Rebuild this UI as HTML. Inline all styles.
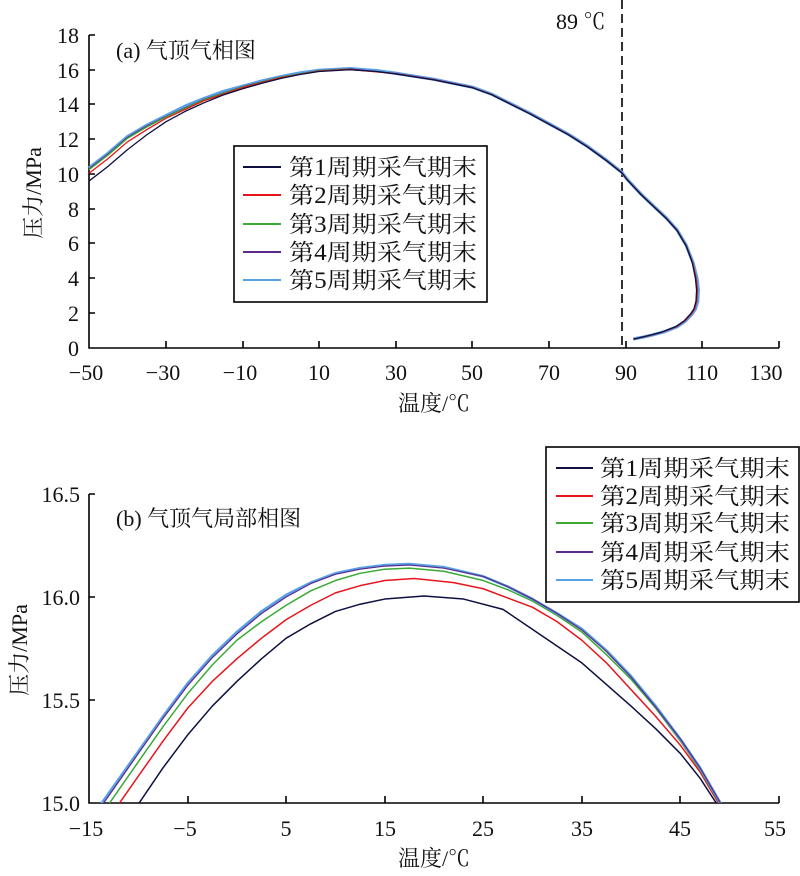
<!DOCTYPE html>
<html><head><meta charset="utf-8"><style>
html,body{margin:0;padding:0;background:#fff;}
svg{display:block;}
text{font-family:"Liberation Serif","Noto Serif CJK SC",serif;fill:#111;}
</style></head><body>
<svg width="800" height="876" viewBox="0 0 800 876" xmlns="http://www.w3.org/2000/svg">
<defs>
<clipPath id="cb"><rect x="89" y="440" width="690" height="363"/></clipPath>
</defs>
<!-- TOP CHART -->
<g stroke="#000" stroke-width="1.6" fill="none">
<path d="M89,35 V348 H779"/>
<path d="M89,35 h6 M89,70 h6 M89,104 h6 M89,139 h6 M89,174 h6 M89,209 h6 M89,243 h6 M89,278 h6 M89,313 h6"/>
<path d="M166,348 v-7 M243,348 v-7 M319,348 v-7 M396,348 v-7 M472,348 v-7 M549,348 v-7 M626,348 v-7 M702,348 v-7 M779,348 v-7"/>
</g>
<line x1="622" y1="0" x2="622" y2="348" stroke="#000" stroke-width="1.6" stroke-dasharray="9,5"/>
<g font-size="22" text-anchor="end">
<text x="79" y="43">18</text><text x="79" y="78">16</text><text x="79" y="112">14</text><text x="79" y="147">12</text><text x="79" y="182">10</text><text x="79" y="217">8</text><text x="79" y="251">6</text><text x="79" y="286">4</text><text x="79" y="321">2</text><text x="79" y="356">0</text>
</g>
<g font-size="22" text-anchor="middle">
<text x="86" y="380">−50</text><text x="163" y="380">−30</text><text x="240" y="380">−10</text><text x="319" y="380">10</text><text x="396" y="380">30</text><text x="472" y="380">50</text><text x="549" y="380">70</text><text x="626" y="380">90</text><text x="702" y="380">110</text><text x="766" y="380">130</text>
</g>
<text x="434" y="411" font-size="22" text-anchor="middle">温度/℃</text>
<text transform="translate(41,193) rotate(-90)" font-size="22" text-anchor="middle">压力/MPa</text>
<text x="116" y="58" font-size="22">(a) 气顶气相图</text>
<text x="556" y="29" font-size="22">89 ℃</text>
<g fill="none" stroke-linejoin="round" transform="matrix(3.8333 0 0 -17.389 280.67 348)">
<polyline vector-effect="non-scaling-stroke" stroke="#5aa0e6" stroke-width="3.2" points="-50,10.35 -45,11.2 -40,12.15 -35,12.8 -30,13.35 -25,13.9 -20,14.35 -15,14.75 -10,15.05 -5,15.35 0,15.6 5,15.82 10,15.97 18,16.07 25,15.95 30,15.8 40,15.45 50,15.0 55,14.6 60,14.05 65,13.5 70,12.9 75,12.3 80,11.6 85,10.8 89,10.1 90.4,9.7 94,8.85 97.1,8.2 100.5,7.5 103.4,6.79 105.8,5.9 107.6,4.89 108.6,4.0 108.95,3.33 108.8,2.7 108.2,2.25 107.3,1.95 105.6,1.55 103.4,1.22 100,0.93 97,0.75 94.5,0.62 92,0.52"/>
<polyline vector-effect="non-scaling-stroke" stroke="#5b2a8c" stroke-width="1.3" points="-50,10.3 -45,11.15 -40,12.1 -35,12.75 -30,13.3 -20,14.3 -10,15.02 0,15.58 10,15.95 18,16.05 30,15.78 40,15.43 50,14.98"/>
<polyline vector-effect="non-scaling-stroke" stroke="#3aaa35" stroke-width="1.3" points="-50,10.25 -45,11.1 -40,12.05 -35,12.7 -30,13.28 -20,14.28 -10,15.0 0,15.57 10,15.94 18,16.04"/>
<polyline vector-effect="non-scaling-stroke" stroke="#e8141c" stroke-width="1.3" points="-50,10.05 -45,10.9 -40,11.85 -35,12.55 -30,13.2 -20,14.22 -10,14.97 0,15.54 10,15.92 18,16.02 30,15.78 40,15.43 50,14.98 55,14.58 60,14.03 65,13.48 70,12.88 75,12.28 80,11.58 85,10.78 89,10.08 90.4,9.68 94,8.83 97.1,8.18 100.5,7.48 103.4,6.77 105.8,5.88 107.5,4.89 108.4,4.0 108.7,3.33 108.55,2.7 108,2.25 107.1,1.95 105.4,1.55 103.2,1.22 99.8,0.93 96.8,0.75 94.3,0.62 92,0.51"/>
<polyline vector-effect="non-scaling-stroke" stroke="#0d1040" stroke-width="1.3" points="-50,9.6 -45,10.45 -40,11.4 -35,12.25 -30,13.0 -25,13.6 -20,14.1 -15,14.55 -10,14.9 -5,15.22 0,15.5 5,15.73 10,15.9 18,16.0 25,15.9 30,15.76 40,15.42 50,14.97 55,14.57 60,14.02 65,13.47 70,12.87 75,12.27 80,11.57 85,10.77 89,10.07 90.4,9.67 94,8.82 97.1,8.17 100.5,7.47 103.4,6.76 105.8,5.87 107.4,4.89 108.2,4.0 108.5,3.33 108.35,2.7 107.8,2.25 106.9,1.95 105.2,1.55 103,1.22 99.6,0.93 96.6,0.75 94.1,0.62 92,0.5"/>
</g>
<rect x="234" y="146" width="253" height="156" fill="#fff" stroke="#000" stroke-width="1.6"/>
<g stroke-width="2">
<line x1="243" y1="167" x2="281" y2="167" stroke="#0d1040"/>
<line x1="243" y1="195" x2="281" y2="195" stroke="#e8141c"/>
<line x1="243" y1="224" x2="281" y2="224" stroke="#3aaa35"/>
<line x1="243" y1="252" x2="281" y2="252" stroke="#5b2a8c"/>
<line x1="243" y1="280" x2="281" y2="280" stroke="#5aa0e6"/>
</g>
<g font-size="23">
<text x="289" y="175" textLength="188" lengthAdjust="spacingAndGlyphs">第1周期采气期末</text>
<text x="289" y="203" textLength="188" lengthAdjust="spacingAndGlyphs">第2周期采气期末</text>
<text x="289" y="232" textLength="188" lengthAdjust="spacingAndGlyphs">第3周期采气期末</text>
<text x="289" y="260" textLength="188" lengthAdjust="spacingAndGlyphs">第4周期采气期末</text>
<text x="289" y="288" textLength="188" lengthAdjust="spacingAndGlyphs">第5周期采气期末</text>
</g>

<!-- BOTTOM CHART -->
<g stroke="#000" stroke-width="1.6" fill="none">
<path d="M89,494 V803 H779"/>
<path d="M89,494 h6 M89,597 h6 M89,700 h6"/>
<path d="M188,803 v-7 M286,803 v-7 M385,803 v-7 M483,803 v-7 M582,803 v-7 M680,803 v-7 M779,803 v-7"/>
</g>
<g font-size="22" text-anchor="end">
<text x="80" y="502">16.5</text><text x="80" y="605">16.0</text><text x="80" y="708">15.5</text><text x="80" y="811">15.0</text>
</g>
<g font-size="22" text-anchor="middle">
<text x="86" y="836">−15</text><text x="185" y="836">−5</text><text x="286" y="836">5</text><text x="385" y="836">15</text><text x="483" y="836">25</text><text x="582" y="836">35</text><text x="680" y="836">45</text><text x="775" y="836">55</text>
</g>
<text x="434" y="866" font-size="22" text-anchor="middle">温度/℃</text>
<text transform="translate(27,650) rotate(-90)" font-size="22" text-anchor="middle">压力/MPa</text>
<text x="116" y="526" font-size="22">(b) 气顶气局部相图</text>
<g fill="none" stroke-linejoin="round" clip-path="url(#cb)">
<g transform="matrix(9.857 0 0 -206 236.86 3893)">
<polyline vector-effect="non-scaling-stroke" stroke="#0d1040" stroke-width="1.5" points="-10.2,14.98 -7.5,15.17 -5,15.33 -2.5,15.47 0,15.59 2.5,15.7 5,15.8 7.5,15.87 10,15.93 12.5,15.965 15,15.99 19,16.005 23,15.99 27,15.94 31,15.81 35,15.68 40,15.47 42.5,15.36 45,15.24 47,15.12 48.9,14.98"/>
<polyline vector-effect="non-scaling-stroke" stroke="#e8141c" stroke-width="1.5" points="-12.2,14.98 -10,15.13 -7.5,15.3 -5,15.46 -2.5,15.59 0,15.7 2.5,15.8 5,15.89 7.5,15.96 10,16.02 12.5,16.055 15,16.08 18,16.09 22,16.07 25,16.04 27.5,15.995 30,15.95 32.5,15.88 35,15.79 37.5,15.68 40,15.55 42.5,15.42 45,15.28 47,15.15 49.1,14.98"/>
<polyline vector-effect="non-scaling-stroke" stroke="#3aaa35" stroke-width="1.5" points="-13.2,14.98 -10,15.2 -7.5,15.37 -5,15.53 -2.5,15.67 0,15.79 2.5,15.88 5,15.96 7.5,16.03 10,16.08 12.5,16.115 15,16.135 17.5,16.14 21,16.125 25,16.08 27.5,16.035 30,15.98 32.5,15.91 35,15.83 37.5,15.72 40,15.6 42.5,15.46 45,15.3 47,15.16 49.2,14.98"/>
<polyline vector-effect="non-scaling-stroke" stroke="#5aa0e6" stroke-width="2.6" points="-14.0,14.98 -10,15.25 -7.5,15.42 -5,15.58 -2.5,15.715 0,15.83 2.5,15.93 5,16.01 7.5,16.07 10,16.115 12.5,16.14 15,16.155 17.5,16.16 21,16.145 25,16.1 27.5,16.05 30,15.99 32.5,15.92 35,15.845 37.5,15.74 40,15.615 42.5,15.47 45,15.31 47,15.17 49.3,14.98"/>
<polyline vector-effect="non-scaling-stroke" stroke="#5b2a8c" stroke-width="1.2" points="-13.8,14.98 -10,15.24 -7.5,15.41 -5,15.57 -2.5,15.705 0,15.82 2.5,15.92 5,16.0 7.5,16.065 10,16.11 12.5,16.135 15,16.15 17.5,16.155 21,16.14 25,16.1 27.5,16.05 30,15.99 32.5,15.92 35,15.84 37.5,15.735 40,15.61 42.5,15.465 45,15.31 47,15.17 49.3,14.98"/>
</g>
</g>
<rect x="546" y="447" width="253" height="155" fill="#fff" stroke="#000" stroke-width="1.6"/>
<g stroke-width="2">
<line x1="556" y1="468" x2="593" y2="468" stroke="#0d1040"/>
<line x1="556" y1="496" x2="593" y2="496" stroke="#e8141c"/>
<line x1="556" y1="523" x2="593" y2="523" stroke="#3aaa35"/>
<line x1="556" y1="552" x2="593" y2="552" stroke="#5b2a8c"/>
<line x1="556" y1="580" x2="593" y2="580" stroke="#5aa0e6"/>
</g>
<g font-size="23">
<text x="600" y="476" textLength="190" lengthAdjust="spacingAndGlyphs">第1周期采气期末</text>
<text x="600" y="504" textLength="190" lengthAdjust="spacingAndGlyphs">第2周期采气期末</text>
<text x="600" y="531" textLength="190" lengthAdjust="spacingAndGlyphs">第3周期采气期末</text>
<text x="600" y="560" textLength="190" lengthAdjust="spacingAndGlyphs">第4周期采气期末</text>
<text x="600" y="588" textLength="190" lengthAdjust="spacingAndGlyphs">第5周期采气期末</text>
</g>
</svg>
</body></html>
